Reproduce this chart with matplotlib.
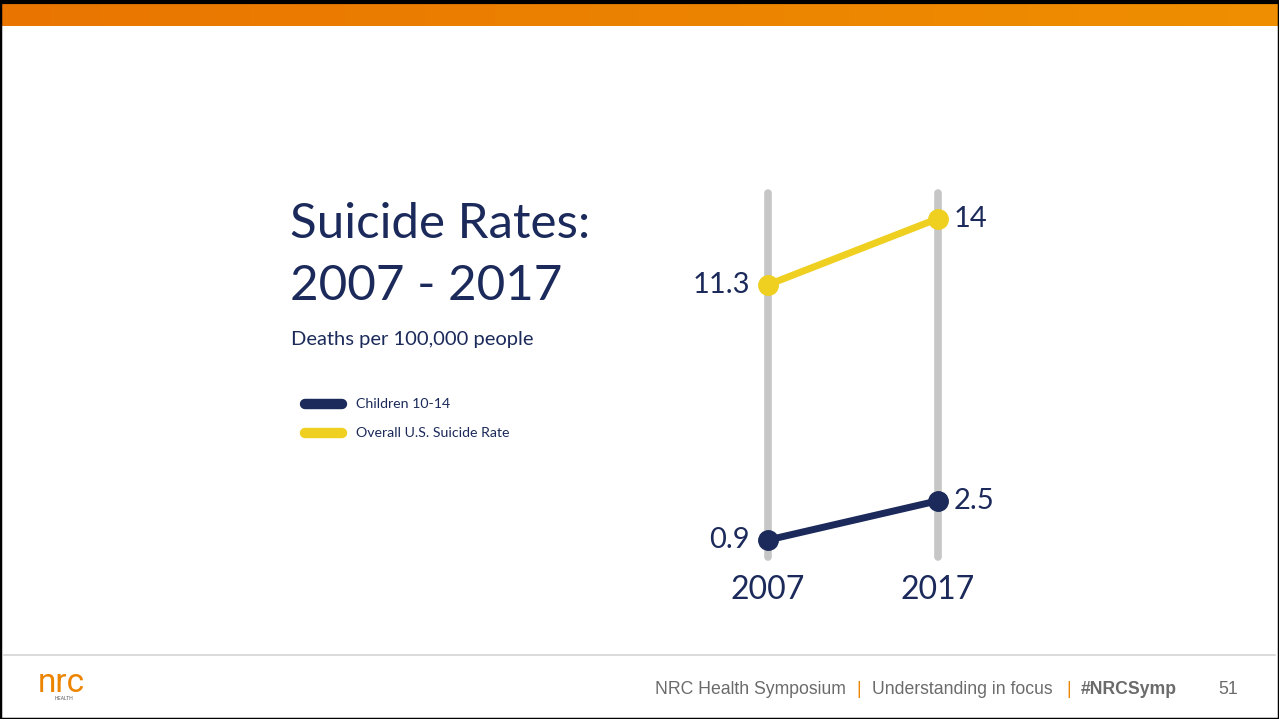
import numpy as np
import matplotlib.pyplot as plt
from matplotlib.lines import Line2D
from matplotlib.colors import LinearSegmentedColormap

# data
years = ["2007", "2017"]
children = [0.9, 2.5]
overall = [11.3, 14]
series_names = ["Children 10-14", "Overall U.S. Suicide Rate"]

navy = "#1b2a5a"
yellow = "#efd020"
grey = "#c6c6c6"
orange = "#ec8400"

W, H = 1279, 719
fig = plt.figure(figsize=(W / 100, H / 100), dpi=100)
fig.patch.set_facecolor("white")

def fx(px):
    return px / W

def fy(py):
    return 1 - py / H

# top orange gradient bar
bar = fig.add_axes([0, fy(26), 1, (26 - 3) / H])
grad = np.linspace(0, 1, 256).reshape(1, -1)
cm = LinearSegmentedColormap.from_list("o", ["#e97500", "#ef8f00"])
bar.imshow(grad, aspect="auto", cmap=cm, extent=[0, 1, 0, 1])
bar.axis("off")

# slide border
fig.add_artist(plt.Rectangle((0, 0), 1, 1, transform=fig.transFigure,
                             fill=False, edgecolor="black", linewidth=2.5))
fig.add_artist(Line2D([0, 1], [fy(1.5), fy(1.5)], transform=fig.transFigure,
                      color="black", linewidth=3))

# slope chart axes: x=0 -> px 768, x=1 -> px 938
top_px, bot_px = 193, 557
a, b = 562.1, 24.54  # pixel = a - b*value
ax = fig.add_axes([fx(768), fy(bot_px), fx(938) - fx(768), (bot_px - top_px) / H])
ax.set_xlim(0, 1)
ax.set_ylim((a - bot_px) / b, (a - top_px) / b)
ax.axis("off")

xs = [0, 1]
for x in xs:
    ax.plot([x, x], [(a - bot_px) / b, (a - top_px) / b], color=grey, lw=5.5,
            solid_capstyle="round", clip_on=False, zorder=1)

for vals, col in [(overall, yellow), (children, navy)]:
    ax.plot(xs, vals, color=col, lw=5, marker="o", markersize=14,
            solid_capstyle="round", clip_on=False, zorder=3)

def fmt(v):
    return ("%g" % v)

lab_font = dict(family="Lato", fontsize=21, color=navy, va="center")
for vals in (overall, children):
    ax.annotate(fmt(vals[0]), (0, vals[0]), xytext=(-13, 0), textcoords="offset points",
                ha="right", **lab_font)
    ax.annotate(fmt(vals[1]), (1, vals[1]), xytext=(11, 0), textcoords="offset points",
                ha="left", **lab_font)

for x, yr in zip(xs, years):
    ax.annotate(yr, (x, (a - bot_px) / b), xytext=(0, -24), textcoords="offset points",
                ha="center", va="center", family="Lato", fontsize=23, color=navy)

# title
fig.text(fx(290), fy(224), "Suicide Rates:", family="Lato", fontsize=35.5, color=navy,
         va="center", ha="left")
fig.text(fx(290), fy(286), "2007 - 2017", family="Lato", fontsize=35.5, color=navy,
         va="center", ha="left")
fig.text(fx(291), fy(339), "Deaths per 100,000 people", family="Lato", fontsize=14.5,
         color=navy, va="center", ha="left")

# legend
for py, col, name in [(404, navy, series_names[0]), (433, yellow, series_names[1])]:
    fig.add_artist(Line2D([fx(305), fx(342)], [fy(py), fy(py)], transform=fig.transFigure,
                          color=col, lw=7.5, solid_capstyle="round"))
    fig.text(fx(356), fy(py), name, family="Lato", fontsize=10.2, color=navy,
             va="center", ha="left")

# footer
fig.add_artist(Line2D([0.003, 0.997], [fy(655), fy(655)], transform=fig.transFigure,
                      color="#d4d4d4", lw=1.2))
foot = dict(family="Liberation Sans", fontsize=12.7, va="center", ha="left")
fig.text(fx(655), fy(689), "NRC Health Symposium", color="#6b6b6b", **foot)
fig.text(fx(856), fy(689), "|", color=orange, **foot)
fig.text(fx(872), fy(689), "Understanding in focus", color="#6b6b6b", **foot)
fig.text(fx(1066), fy(689), "|", color=orange, **foot)
fig.text(fx(1081), fy(689), "#NRCSymp", color="#6b6b6b", fontweight="bold", **foot)
fig.text(fx(1218), fy(689), "51", color="#6b6b6b", **foot)

# logo
fig.text(fx(38), fy(692), "nrc", family="Roboto", fontsize=24,
         color=orange, va="baseline", ha="left")
fig.text(fx(64), fy(699), "HEALTH", family="Liberation Sans", fontsize=3.5,
         color="#555555", va="center", ha="center")

fig.savefig("out.png", dpi=100)
